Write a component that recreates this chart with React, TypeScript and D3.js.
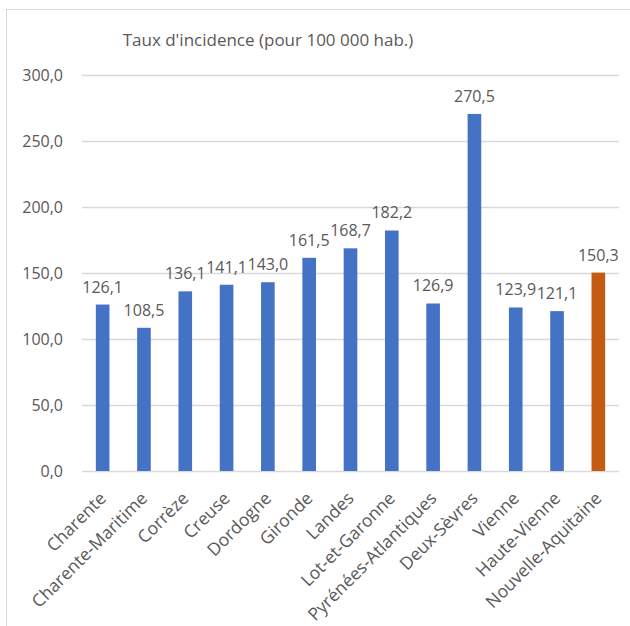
import React from 'react';
import * as d3 from 'd3';

const departements = [
  'Charente', 'Charente-Maritime', 'Corrèze', 'Creuse', 'Dordogne', 'Gironde', 'Landes',
  'Lot-et-Garonne', 'Pyrénées-Atlantiques', 'Deux-Sèvres', 'Vienne', 'Haute-Vienne', 'Nouvelle-Aquitaine',
];
const taux = [126.1, 108.5, 136.1, 141.1, 143.0, 161.5, 168.7, 182.2, 126.9, 270.5, 123.9, 121.1, 150.3];
const yTicks = [0, 50, 100, 150, 200, 250, 300];
const title = "Taux d'incidence (pour 100 000 hab.)";

const W = 630;
const H = 626;
const FONT = "'Open Sans', sans-serif";
const TEXT = '#595959';

const fmt = (v: number) => v.toFixed(1).replace('.', ',');

export default function App() {
  const x = d3.scaleBand<string>()
    .domain(departements)
    .range([82, 619])
    .paddingInner(0.67)
    .paddingOuter(0.335);

  const y = d3.scaleLinear().domain([0, 300]).range([471, 75]);

  return (
    <svg width={W} height={H} style={{ position: 'absolute', left: 0, top: 0, background: '#fff' }}>
      <rect x={6.5} y={9.5} width={W + 20} height={H + 20} fill="#fff" stroke="#d9d9d9" />
      <text x={268} y={46} textAnchor="middle" fontFamily={FONT} fontSize={17} fill={TEXT}>{title}</text>

      {/* grille + axe */}
      {yTicks.map(t => (
        <g key={t}>
          <line x1={82} x2={619} y1={Math.round(y(t)) + 0.5} y2={Math.round(y(t)) + 0.5} stroke="#d9d9d9" strokeWidth={1.3} />
          <text x={63} y={y(t)} dy="0.36em" textAnchor="end" fontFamily={FONT} fontSize={16} fill={TEXT}>{fmt(t)}</text>
        </g>
      ))}

      {departements.map((d, i) => {
        const bx = x(d)!;
        const cx = bx + x.bandwidth() / 2;
        const last = i === departements.length - 1;
        return (
          <g key={d}>
            <rect x={bx} y={y(taux[i])} width={x.bandwidth()} height={y(0) - y(taux[i])}
              fill={last ? '#C55A11' : '#4472C4'} />
            <text x={cx} y={y(taux[i]) - 12} textAnchor="middle" fontFamily={FONT} fontSize={16} fill={TEXT}>
              {fmt(taux[i])}
            </text>
            <text transform={`translate(${cx},${495}) rotate(-45)`} textAnchor="end" dy="0.36em"
              fontFamily={FONT} fontSize={17.5} fill={TEXT}>{d}</text>
          </g>
        );
      })}
    </svg>
  );
}
